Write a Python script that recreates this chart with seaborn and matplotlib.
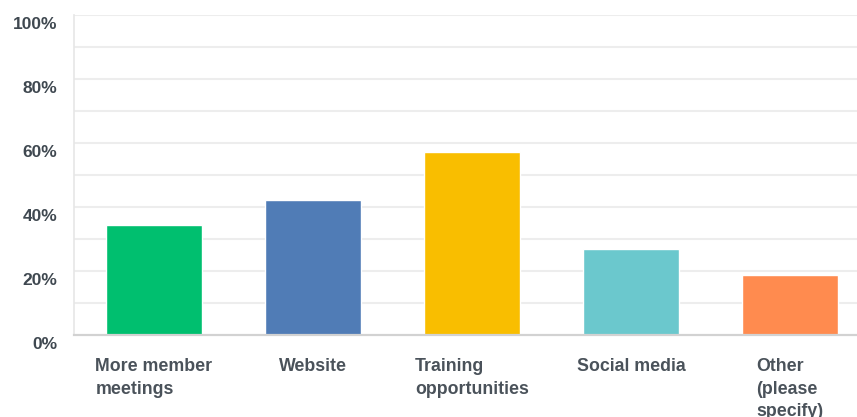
import matplotlib
matplotlib.use("Agg")
import matplotlib.pyplot as plt
import matplotlib.transforms as mtransforms
import seaborn as sns
import pandas as pd

categories = [
    "More member\nmeetings",
    "Website",
    "Training\nopportunities",
    "Social media",
    "Other\n(please\nspecify)",
]
percentages = [34.2, 42.1, 57.2, 26.7, 18.7]
bar_colors = ["#00bf6f", "#507cb6", "#f9be00", "#6bc8cd", "#ff8b4f"]
y_ticks = [0, 20, 40, 60, 80, 100]
y_tick_labels = ["0%", "20%", "40%", "60%", "80%", "100%"]

sns.set_theme(style="white")
plt.rcParams["font.family"] = ["Liberation Sans", "DejaVu Sans"]

df = pd.DataFrame({"answer": categories, "pct": percentages})

fig = plt.figure(figsize=(8.57, 4.17), dpi=100)
ax = fig.add_axes([74 / 857, 82.3 / 417, 1 - 74 / 857, (334.7 - 14.7) / 417])

sns.barplot(
    data=df, x="answer", y="pct", hue="answer",
    palette=bar_colors, width=0.604, legend=False, ax=ax,
    saturation=1, zorder=3,
)

ax.set_ylim(0, 100)
ax.set_xlim(-0.503, 4.422)

# light horizontal grid every 10%
for v in range(10, 101, 10):
    ax.axhline(v, color="#ededed", lw=1.5, zorder=1)

ax.set_yticks(y_ticks)
ax.set_yticklabels(y_tick_labels, fontsize=12.5, fontweight="bold", color="#3f4850")
ax.tick_params(axis="y", length=0, pad=12)
ax.tick_params(axis="x", length=0, pad=17)

# y labels sit slightly below their gridlines
offset = mtransforms.ScaledTranslation(0, -8 / 100, fig.dpi_scale_trans)
for lab in ax.get_yticklabels():
    lab.set_transform(lab.get_transform() + offset)

ax.set_xticks(range(len(categories)))
ax.set_xticklabels(categories, fontsize=12.8, fontweight="bold", color="#4a525a",
                   ha="center", va="top", linespacing=1.42)
for lab in ax.get_xticklabels():
    lab.set_multialignment("left")

ax.set_xlabel("")
ax.set_ylabel("")

for side in ["top", "right"]:
    ax.spines[side].set_visible(False)
ax.spines["left"].set_color("#e6e6e6")
ax.spines["left"].set_linewidth(1.2)
ax.spines["bottom"].set_color("#d2d2d2")
ax.spines["bottom"].set_linewidth(1.6)
ax.spines["bottom"].set_zorder(4)

fig.savefig("out.png", dpi=100)
